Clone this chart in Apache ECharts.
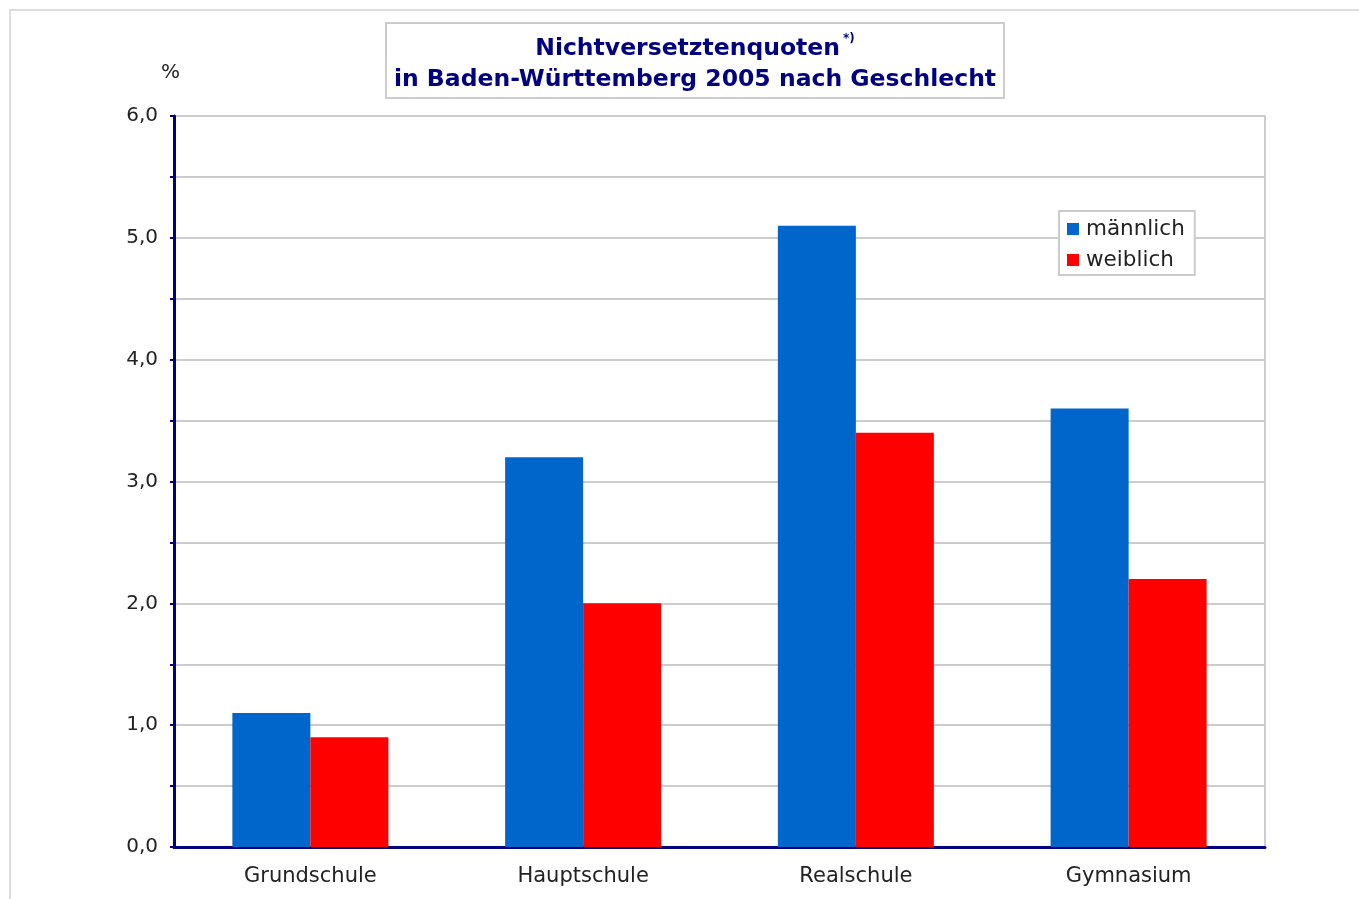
<!DOCTYPE html>
<html><head><meta charset="utf-8">
<script src="https://cdn.jsdelivr.net/npm/echarts@6/dist/echarts.min.js"></script>
<style>html,body{margin:0;padding:0;background:#fff}#c{width:1359px;height:899px}</style>
</head><body><div id="c"></div>
<script>
var categories = ['Grundschule', 'Hauptschule', 'Realschule', 'Gymnasium'];
var maennlich = [1.1, 3.2, 5.1, 3.6];
var weiblich = [0.9, 2.0, 3.4, 2.2];
var seriesNames = ['männlich', 'weiblich'];
var FONT = '"DejaVu Sans", Verdana, sans-serif';
var chart = echarts.init(document.getElementById('c'));
chart.setOption({
  animation: false,
  textStyle: { fontFamily: FONT },
  graphic: [
    { type: 'rect', shape: { x: 10, y: 10, width: 1400, height: 1000 }, style: { fill: 'none', stroke: '#dddddd', lineWidth: 2 }, z: -10 },
    { type: 'rect', shape: { x: 386, y: 23, width: 618, height: 75 }, style: { fill: '#fff', stroke: '#cccccc', lineWidth: 2 }, z: 0 },
    { type: 'text', left: 161, top: 63, style: { text: '%', fontSize: 20, fill: '#222', fontFamily: FONT } }
  ],
  title: {
    left: 690, top: 28, textAlign: 'center',
    text: '{a|Nichtversetztenquoten}{s|*)}\n{a|in Baden-Württemberg 2005 nach Geschlecht}',
    textStyle: {
      rich: {
        a: { fontSize: 23.5, fontWeight: 'bold', color: '#000080', fontFamily: FONT, lineHeight: 31 },
        s: { fontSize: 12, color: '#000080', fontFamily: FONT, verticalAlign: 'top', lineHeight: 31, padding: [0, 0, 14, 3] }
      }
    },
    z: 10
  },
  legend: {
    orient: 'vertical', left: 1059, top: 211,
    data: seriesNames, icon: 'rect', itemWidth: 12, itemHeight: 12, itemGap: 9,
    padding: [7, 10, 4, 8],
    backgroundColor: '#fff', borderColor: '#cccccc', borderWidth: 2,
    textStyle: { fontSize: 21.5, color: '#222', fontFamily: FONT, padding: [0, 0, 0, 2] }
  },
  grid: { left: 174, top: 116, right: 94, bottom: 52, show: true, borderColor: '#cccccc', borderWidth: 2 },
  xAxis: {
    type: 'category', data: categories,
    axisLine: { lineStyle: { color: '#000080', width: 3 } },
    axisTick: { show: false },
    axisLabel: { fontSize: 21, color: '#222', margin: 19, fontFamily: FONT }
  },
  yAxis: {
    type: 'value', min: 0, max: 6, interval: 1,
    axisLine: { show: true, lineStyle: { color: '#000080', width: 3 } },
    axisTick: { show: true, length: 4, lineStyle: { color: '#000080', width: 2 } },
    minorTick: { show: true, splitNumber: 2, length: 4, lineStyle: { color: '#000080', width: 2 } },
    splitLine: { show: true, lineStyle: { color: '#cccccc', width: 2 } },
    minorSplitLine: { show: true, lineStyle: { color: '#cccccc', width: 2 } },
    axisLabel: { fontSize: 20, color: '#222', margin: 16, fontFamily: FONT,
      formatter: function (v) { return v.toFixed(1).replace('.', ','); } }
  },
  series: [
    { name: seriesNames[0], type: 'bar', data: maennlich, barGap: '0%', barCategoryGap: '42.8%', itemStyle: { color: '#0066CC' } },
    { name: seriesNames[1], type: 'bar', data: weiblich, barGap: '0%', barCategoryGap: '42.8%', itemStyle: { color: '#FF0000' } }
  ]
});
</script></body></html>
